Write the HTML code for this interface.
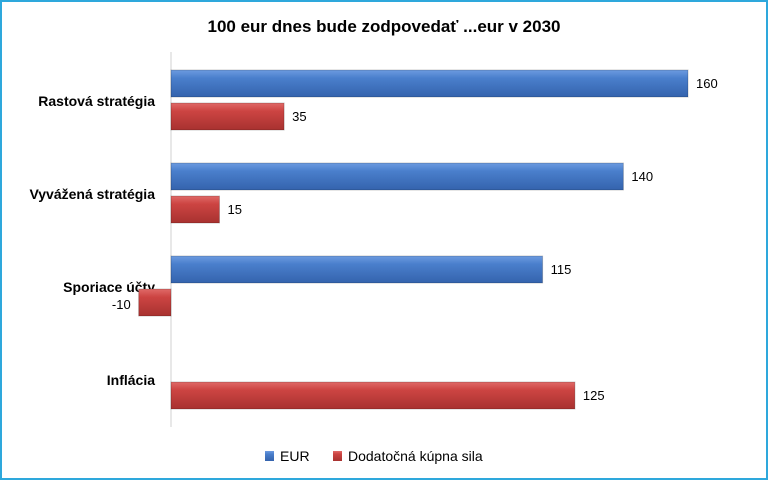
<!DOCTYPE html>
<html><head><meta charset="utf-8"><style>
body{margin:0;background:#fff}
svg text{font-family:"Liberation Sans",sans-serif}
</style></head><body>
<svg width="768" height="480" xmlns="http://www.w3.org/2000/svg">
<defs>
<linearGradient id="gb" x1="0" y1="0" x2="0" y2="1"><stop offset="0" stop-color="#6d9be0"/><stop offset="0.3" stop-color="#4a7fcc"/><stop offset="1" stop-color="#3463ad"/></linearGradient>
<linearGradient id="gr" x1="0" y1="0" x2="0" y2="1"><stop offset="0" stop-color="#e06a68"/><stop offset="0.3" stop-color="#cc4442"/><stop offset="1" stop-color="#a83230"/></linearGradient>
</defs>
<rect x="1" y="1" width="766" height="478" fill="#fff" stroke="#2ea8dc" stroke-width="2"/>
<text x="384" y="32" text-anchor="middle" font-size="17" font-weight="bold" fill="#000">100 eur dnes bude zodpovedať ...eur v 2030</text>
<line x1="171" y1="52" x2="171" y2="427" stroke="#d0d0d0"/>
<g id="bars"></g>
<g>
<rect x="265" y="451" width="9" height="10" fill="url(#gb)"/>
<text x="280" y="461" font-size="14" fill="#000">EUR</text>
<rect x="333" y="451" width="9" height="10" fill="url(#gr)"/>
<text x="348" y="461" font-size="14" fill="#000">Dodatočná kúpna sila</text>
</g>
</svg>
<script>
const categories=["Rastová stratégia","Vyvážená stratégia","Sporiace účty","Inflácia"];
const eurValues=[160,140,115,null];
const kupnaValues=[35,15,-10,125];
const NS="http://www.w3.org/2000/svg";
const g=document.getElementById('bars');
const x0=171, k=517/160;
function xs(v){return x0+v*k;}
function catY(i){return 100+i*93;}
function mk(t,a){const e=document.createElementNS(NS,t);for(const n in a)e.setAttribute(n,a[n]);g.appendChild(e);return e;}
categories.forEach((c,i)=>{
  const cy=catY(i);
  const lab=mk('text',{x:155,y:cy+6,'text-anchor':'end','font-size':14,'font-weight':'bold',fill:'#000'});
  lab.textContent=c;
  
  
  [[eurValues[i],cy-30,'url(#gb)','bar-eur'],[kupnaValues[i],cy+3,'url(#gr)','bar-kupna']].forEach(([v,y,f,nm])=>{
    if(v===null||v===undefined)return;
    const a=Math.min(xs(0),xs(v)),b=Math.max(xs(0),xs(v));
    const r=mk('rect',{x:a,y:y,width:b-a,height:27,fill:f,stroke:'rgba(0,0,0,0.2)','stroke-width':1});
    
    
    const t=mk('text',{x:v>=0?b+8:a-8,y:v>=0?y+18:y+20,'text-anchor':v>=0?'start':'end','font-size':13,fill:'#000'});
    t.textContent=v;
    
    
  });
});
</script>
</body></html>
